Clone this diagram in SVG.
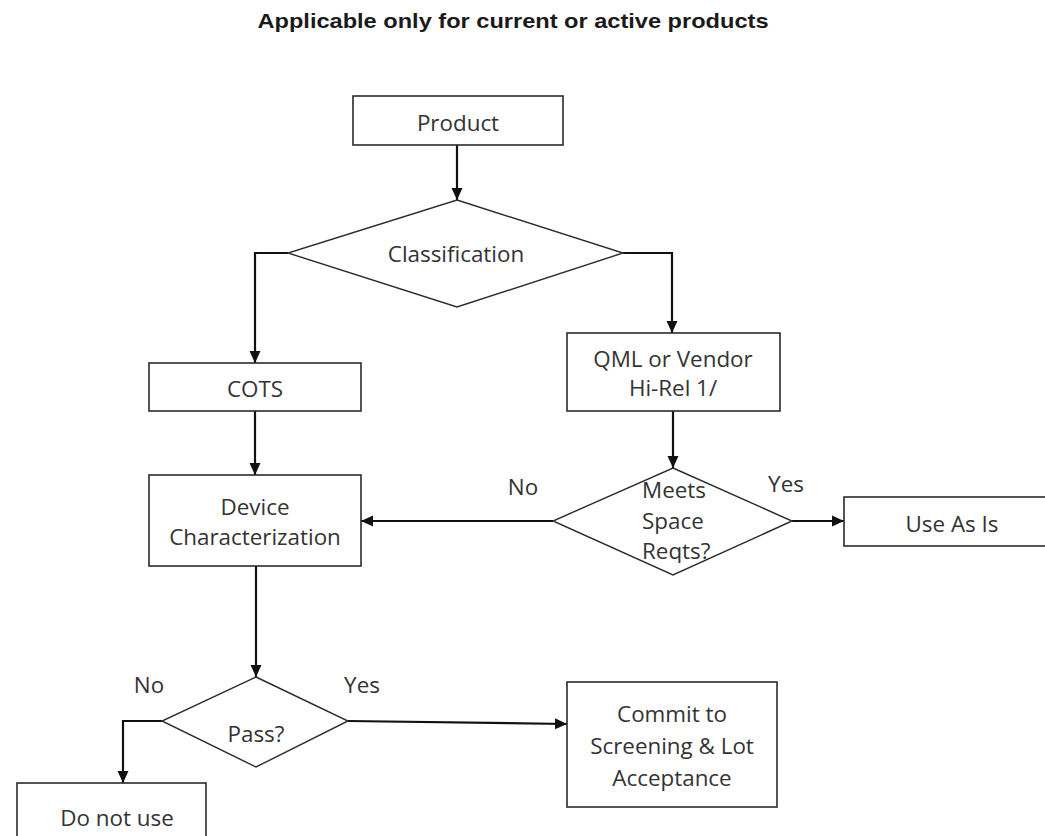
<svg xmlns="http://www.w3.org/2000/svg" width="1045" height="836" viewBox="0 0 1045 836">
  <style>
    .box { fill: #ffffff; stroke: #2b2b2b; stroke-width: 1.6; }
    .dia { fill: #ffffff; stroke: #2b2b2b; stroke-width: 1.4; }
    .wire { fill: none; stroke: #111111; stroke-width: 2.2; }
    .lbl { font-family: "Open Sans", Lato, sans-serif; font-size: 22.4px; fill: #333333; text-anchor: middle; }
    .lbl-l { font-family: "Open Sans", Lato, sans-serif; font-size: 22.4px; fill: #333333; }
    .title { font-family: "Liberation Sans", Arial, sans-serif; font-weight: bold; font-size: 21px; fill: #1a1a1a; text-anchor: middle; }
  </style>
  <defs>
    <marker id="arrow" markerUnits="userSpaceOnUse" markerWidth="13" markerHeight="12" refX="12" refY="6" orient="auto">
      <path d="M0,0.5 L12,6 L0,11.5 z" fill="#111111"/>
    </marker>
    <!-- trims the descender of the last line where it meets the diamond edge -->
    <clipPath id="meetsClip">
      <rect x="600" y="470" width="140" height="93"/>
    </clipPath>
  </defs>

  <rect width="1045" height="836" fill="#ffffff"/>

  <text class="title" x="513" y="28" textLength="511" lengthAdjust="spacingAndGlyphs">Applicable only for current or active products</text>

  <!-- connectors -->
  <g id="connectors">
    <path class="wire" d="M457,145 V200" marker-end="url(#arrow)"/>
    <path class="wire" d="M288,253 H255 V363" marker-end="url(#arrow)"/>
    <path class="wire" d="M623,253 H672 V333" marker-end="url(#arrow)"/>
    <path class="wire" d="M255,411 V475" marker-end="url(#arrow)"/>
    <path class="wire" d="M673,411 V468" marker-end="url(#arrow)"/>
    <path class="wire" d="M553,521 H361" marker-end="url(#arrow)"/>
    <path class="wire" d="M792,521 H844" marker-end="url(#arrow)"/>
    <path class="wire" d="M256,566 V677" marker-end="url(#arrow)"/>
    <path class="wire" d="M162,721 H123 V783" marker-end="url(#arrow)"/>
    <path class="wire" d="M348,721 L567,724" marker-end="url(#arrow)"/>
  </g>

  <!-- branch labels -->
  <g id="labels">
    <text class="lbl" x="523" y="495">No</text>
    <text class="lbl" x="786" y="492">Yes</text>
    <text class="lbl" x="149" y="693">No</text>
    <text class="lbl" x="362" y="693">Yes</text>
  </g>

  <g id="product">
    <rect class="box" x="353" y="96" width="210" height="49"/>
    <text class="lbl" x="458" y="131">Product</text>
  </g>

  <g id="classification">
    <polygon class="dia" points="457,200 623,253 457,307 288,253"/>
    <text class="lbl" x="456" y="262">Classification</text>
  </g>

  <g id="cots">
    <rect class="box" x="149" y="363" width="212" height="48"/>
    <text class="lbl" x="255" y="397">COTS</text>
  </g>

  <g id="qml">
    <rect class="box" x="567" y="333" width="213" height="78"/>
    <text class="lbl" x="673" y="367">QML or Vendor</text>
    <text class="lbl" x="673" y="396">Hi-Rel 1/</text>
  </g>

  <g id="device">
    <rect class="box" x="149" y="475" width="212" height="91"/>
    <text class="lbl" x="255" y="515">Device</text>
    <text class="lbl" x="255" y="545">Characterization</text>
  </g>

  <g id="meets">
    <polygon class="dia" points="673,468 792,521 673,575 553,521"/>
    <g clip-path="url(#meetsClip)">
      <text class="lbl-l" x="642" y="498">Meets</text>
      <text class="lbl-l" x="642" y="529">Space</text>
      <text class="lbl-l" x="642" y="559">Reqts?</text>
    </g>
  </g>

  <g id="use-as-is">
    <rect class="box" x="844" y="497" width="203" height="49"/>
    <text class="lbl" x="952" y="532">Use As Is</text>
  </g>

  <g id="pass">
    <polygon class="dia" points="256,677 348,721 256,767 162,721"/>
    <text class="lbl" x="256" y="742">Pass?</text>
  </g>

  <g id="commit">
    <rect class="box" x="567" y="682" width="210" height="125"/>
    <text class="lbl" x="672" y="722">Commit to</text>
    <text class="lbl" x="672" y="754">Screening &amp; Lot</text>
    <text class="lbl" x="672" y="786">Acceptance</text>
  </g>

  <g id="do-not-use">
    <rect class="box" x="17" y="783" width="189" height="56"/>
    <text class="lbl" x="117" y="826">Do not use</text>
  </g>
</svg>
